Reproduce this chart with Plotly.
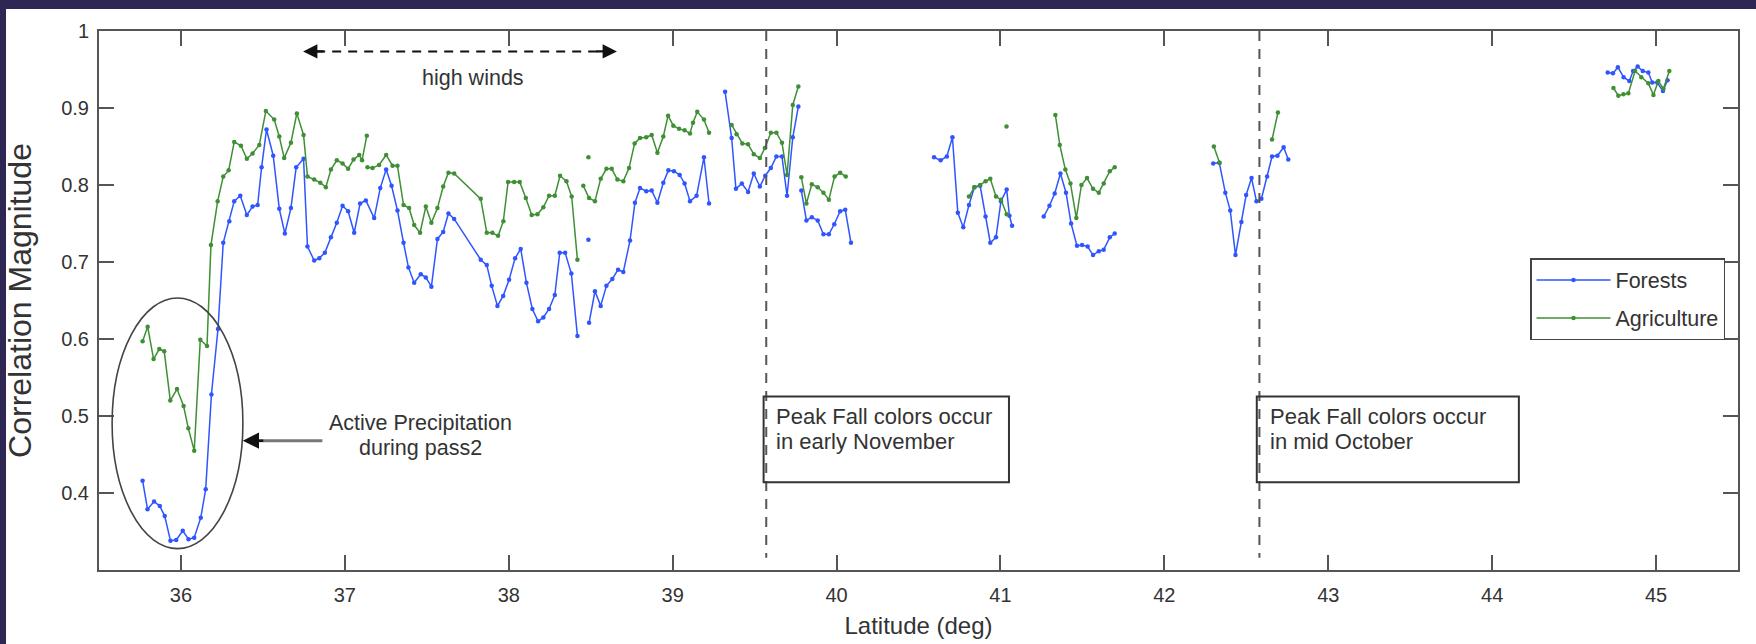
import plotly.graph_objects as go

# ---------------- data ----------------
forest_lat = [
    35.766, 35.796, 35.836, 35.871, 35.901, 35.936, 35.971, 36.011, 36.046, 36.081,
    36.121, 36.151, 36.186, 36.226, 36.258, 36.295, 36.325, 36.362, 36.402, 36.437,
    36.468, 36.492, 36.522, 36.563, 36.600, 36.634, 36.671, 36.703, 36.748, 36.772,
    36.813, 36.844, 36.878, 36.915, 36.951, 36.986, 37.020, 37.057, 37.093, 37.128,
    37.179, 37.216, 37.252, 37.285, 37.321, 37.358, 37.388, 37.423, 37.463, 37.494,
    37.528, 37.565, 37.600, 37.632, 37.667, 37.829, 37.866, 37.896, 37.931, 37.966,
    38.002, 38.039, 38.073, 38.108, 38.144, 38.179, 38.211, 38.246, 38.281, 38.311,
    38.344, 38.382, 38.419, None,
    38.486, None,
    38.490, 38.526, 38.561, 38.596, 38.632, 38.667, 38.699, 38.740, 38.770, 38.801,
    38.839, 38.872, 38.907, 38.943, 38.974, 39.008, 39.043, 39.073, 39.106, 39.146,
    39.191, 39.222, None,
    39.320, 39.360, 39.386, 39.422, 39.460, 39.495, 39.532, 39.565, 39.599, 39.633,
    39.667, 39.698, 39.733, 39.767, None,
    39.785, 39.816, 39.849, 39.885, 39.920, 39.953, 39.986, 40.022, 40.053, 40.088, None,
    40.595, 40.635, 40.673, 40.707, 40.740, 40.773, 40.808, 40.841, 40.876, 40.909,
    40.938, 40.973, 41.003, 41.038, 41.055, 41.071, None,
    41.264, 41.299, 41.331, 41.366, 41.400, 41.431, 41.467, 41.498, 41.532, 41.565,
    41.600, 41.630, 41.667, 41.697, None,
    42.298, 42.335, 42.372, 42.402, 42.434, 42.470, 42.499, 42.532, 42.562, 42.592,
    42.627, 42.657, 42.690, 42.728, 42.756, None,
    44.705, 44.737, 44.767, 44.802, 44.837, 44.860, 44.888, 44.919, 44.953, 44.977,
    45.007, 45.042, 45.070,
]
forest_corr = [
    0.416, 0.379, 0.389, 0.383, 0.370, 0.338, 0.339, 0.351, 0.340, 0.342,
    0.368, 0.405, 0.528, 0.613, 0.725, 0.753, 0.779, 0.786, 0.761, 0.772,
    0.774, 0.823, 0.872, 0.838, 0.769, 0.737, 0.770, 0.823, 0.834, 0.720,
    0.702, 0.705, 0.712, 0.732, 0.751, 0.773, 0.766, 0.738, 0.776, 0.780,
    0.757, 0.796, 0.820, 0.799, 0.767, 0.725, 0.693, 0.673, 0.684, 0.680,
    0.668, 0.730, 0.739, 0.763, 0.756, 0.703, 0.696, 0.669, 0.643, 0.656,
    0.677, 0.705, 0.717, 0.673, 0.639, 0.623, 0.628, 0.639, 0.657, 0.712,
    0.712, 0.685, 0.604, None,
    0.729, None,
    0.621, 0.662, 0.643, 0.669, 0.678, 0.690, 0.687, 0.728, 0.777, 0.796,
    0.792, 0.793, 0.777, 0.803, 0.819, 0.818, 0.813, 0.802, 0.779, 0.786,
    0.836, 0.776, None,
    0.921, 0.861, 0.795, 0.802, 0.791, 0.815, 0.798, 0.812, 0.822, 0.837,
    0.837, 0.786, 0.862, 0.902, None,
    0.793, 0.754, 0.758, 0.754, 0.736, 0.736, 0.749, 0.766, 0.768, 0.725, None,
    0.836, 0.832, 0.837, 0.862, 0.764, 0.745, 0.774, 0.797, 0.799, 0.759,
    0.725, 0.732, 0.779, 0.794, 0.760, 0.747, None,
    0.759, 0.773, 0.789, 0.815, 0.790, 0.750, 0.721, 0.722, 0.720, 0.709,
    0.714, 0.716, 0.732, 0.737, None,
    0.828, 0.829, 0.790, 0.767, 0.709, 0.752, 0.787, 0.809, 0.779, 0.782,
    0.811, 0.837, 0.838, 0.849, 0.833, None,
    0.946, 0.945, 0.953, 0.940, 0.935, 0.948, 0.954, 0.948, 0.946, 0.933,
    0.933, 0.922, 0.936,
]

agri_lat = [
    35.766, 35.797, 35.833, 35.868, 35.898, 35.935, 35.976, 36.016, 36.045, 36.081,
    36.118, 36.159, 36.183, 36.224, 36.258, 36.291, 36.325, 36.366, 36.402, 36.437,
    36.478, 36.518, 36.569, 36.600, 36.630, 36.671, 36.707, 36.748, 36.772, 36.813,
    36.850, 36.884, 36.915, 36.951, 36.986, 37.020, 37.053, 37.088, 37.105, 37.134, None,
    37.138, 37.169, 37.209, 37.252, 37.291, 37.321, 37.358, 37.392, 37.423, 37.459,
    37.494, 37.528, 37.565, 37.600, 37.632, 37.667, 37.829, 37.866, 37.900, 37.935,
    37.967, 37.996, 38.033, 38.067, 38.104, 38.140, 38.175, 38.211, 38.246, 38.281,
    38.313, 38.352, 38.384, 38.419, None,
    38.486, None,
    38.455, 38.490, 38.526, 38.561, 38.596, 38.628, 38.663, 38.699, 38.734, 38.768,
    38.801, 38.839, 38.872, 38.907, 38.943, 38.972, 39.004, 39.039, 39.073, 39.106,
    39.124, 39.150, 39.191, 39.222, None,
    39.360, 39.390, 39.425, 39.460, 39.495, 39.532, 39.563, 39.599, 39.633, 39.667,
    39.698, 39.733, 39.767, None,
    39.785, 39.816, 39.849, 39.885, 39.920, 39.953, 39.988, 40.022, 40.056, None,
    40.808, 40.841, 40.876, 40.909, 40.938, 40.973, 41.003, 41.038, None,
    41.037, None,
    41.335, 41.362, 41.396, 41.427, 41.463, 41.494, 41.528, 41.565, 41.600, 41.630,
    41.667, 41.697, None,
    42.302, 42.337, None,
    42.657, 42.693, None,
    44.740, 44.770, 44.801, 44.831, 44.872, 44.910, 44.953, 44.984, 45.014, 45.045,
    45.081,
]
agri_corr = [
    0.597, 0.616, 0.574, 0.587, 0.584, 0.520, 0.535, 0.513, 0.484, 0.455,
    0.599, 0.591, 0.722, 0.779, 0.811, 0.819, 0.856, 0.851, 0.834, 0.841,
    0.852, 0.896, 0.885, 0.863, 0.835, 0.855, 0.893, 0.865, 0.811, 0.807,
    0.803, 0.797, 0.820, 0.832, 0.828, 0.821, 0.833, 0.839, 0.832, 0.864, None,
    0.823, 0.822, 0.826, 0.839, 0.825, 0.825, 0.774, 0.770, 0.748, 0.738,
    0.772, 0.751, 0.770, 0.798, 0.816, 0.815, 0.782, 0.738, 0.738, 0.734,
    0.753, 0.804, 0.804, 0.804, 0.783, 0.761, 0.762, 0.771, 0.786, 0.786,
    0.812, 0.805, 0.785, 0.703, None,
    0.836, None,
    0.799, 0.783, 0.779, 0.808, 0.821, 0.821, 0.807, 0.805, 0.822, 0.854,
    0.861, 0.862, 0.865, 0.842, 0.863, 0.890, 0.877, 0.873, 0.871, 0.867,
    0.881, 0.895, 0.885, 0.868, None,
    0.878, 0.866, 0.854, 0.853, 0.840, 0.835, 0.848, 0.868, 0.868, 0.855,
    0.813, 0.904, 0.928, None,
    0.810, 0.776, 0.801, 0.797, 0.790, 0.781, 0.811, 0.816, 0.811, None,
    0.785, 0.797, 0.800, 0.805, 0.808, 0.785, 0.781, 0.762, None,
    0.876, None,
    0.891, 0.852, 0.820, 0.802, 0.757, 0.800, 0.809, 0.795, 0.790, 0.802,
    0.818, 0.823, None,
    0.850, 0.829, None,
    0.859, 0.894, None,
    0.926, 0.916, 0.918, 0.919, 0.948, 0.940, 0.932, 0.917, 0.935, 0.925,
    0.948,
]

x_ticks = [36, 37, 38, 39, 40, 41, 42, 43, 44, 45]
y_ticks = [0.4, 0.5, 0.6, 0.7, 0.8, 0.9, 1.0]
y_tick_text = ["0.4", "0.5", "0.6", "0.7", "0.8", "0.9", "1"]

peak_lines = [39.571, 42.58]          # dashed vertical markers
peak_line1 = ["Peak Fall colors occur", "Peak Fall colors occur"]
peak_line2 = ["in early November", "in mid October"]
peak_box_right = [41.052, 44.163]

winds_span = [36.745, 38.66]
winds_level = 0.9735

# ---------------- layout geometry ----------------
W, H = 1756, 644
L, R, T, B = 99, 1738, 31, 570          # plot-area pixel box

def px_x(p):
    return (p - L) / (R - L)

def px_y(p):
    return 1 - (p - T) / (B - T)

FONT = "Liberation Sans, Arial, sans-serif"
TXT = "#333333"
BORDER = "#2e2653"
BLUE = "#2f55ff"
GREEN = "#3f8f35"

fig = go.Figure()

fig.add_trace(go.Scatter(
    x=forest_lat, y=forest_corr, name="Forests", mode="lines+markers",
    legendgroup="f",
    line=dict(color=BLUE, width=1.5), marker=dict(color=BLUE, size=4.5),
    connectgaps=False))
fig.add_trace(go.Scatter(
    x=agri_lat, y=agri_corr, name="Agriculture", mode="lines+markers",
    legendgroup="a",
    line=dict(color=GREEN, width=1.5), marker=dict(color=GREEN, size=4.5),
    connectgaps=False))

shapes = []
annotations = []

# dark frame around the figure (top and left strips)
shapes.append(dict(type="rect", xref="paper", yref="paper",
                   x0=px_x(-5), x1=px_x(W + 5), y0=px_y(-5), y1=px_y(9),
                   fillcolor=BORDER, line=dict(width=0), layer="above"))
shapes.append(dict(type="rect", xref="paper", yref="paper",
                   x0=px_x(-5), x1=px_x(6), y0=px_y(H + 5), y1=px_y(-5),
                   fillcolor=BORDER, line=dict(width=0), layer="above"))

def note(x, y, text, size=21.5, xanchor="left"):
    annotations.append(dict(x=x, y=y, xref="x", yref="y", text=text,
                            showarrow=False, xanchor=xanchor, yanchor="middle",
                            font=dict(family=FONT, size=size, color=TXT)))

# dashed vertical lines + text boxes
for xv, t1, t2, xr in zip(peak_lines, peak_line1, peak_line2, peak_box_right):
    shapes.append(dict(type="line", xref="x", yref="y", x0=xv, x1=xv, y0=1.0, y1=0.316,
                       line=dict(color="#555555", width=2, dash="10px,8px")))
    shapes.append(dict(type="rect", xref="x", yref="y", x0=xv - 0.016, x1=xr,
                       y0=0.4138, y1=0.5254,
                       line=dict(color="#333333", width=2), fillcolor="rgba(0,0,0,0)"))
    note(xv + 0.05, 0.4991, t1, size=22)
    note(xv + 0.05, 0.4666, t2, size=22)

# ellipse around precipitation region
shapes.append(dict(type="circle", xref="x", yref="y", x0=35.58, x1=36.378,
                   y0=0.3277, y1=0.6533, line=dict(color="#444444", width=1.6)))

# precipitation arrow (gray shaft, black head)
shapes.append(dict(type="line", xref="x", yref="y", x0=36.42, x1=36.863, y0=0.468, y1=0.468,
                   line=dict(color="#777777", width=3)))
annotations.append(dict(x=36.377, y=0.468, xref="x", yref="y", ax=22, ay=0,
                        text="", showarrow=True, arrowhead=2, arrowsize=1.3,
                        arrowwidth=2.5, arrowcolor="#111111"))
note(37.46, 0.4905, "Active Precipitation", xanchor="center")
note(37.46, 0.4580, "during pass2", xanchor="center")

# high winds double arrow
shapes.append(dict(type="line", xref="x", yref="y", x0=winds_span[0] + 0.08,
                   x1=winds_span[1] - 0.08, y0=winds_level, y1=winds_level,
                   line=dict(color="#111111", width=2, dash="9px,7px")))
annotations.append(dict(x=winds_span[0], y=winds_level, xref="x", yref="y", ax=22, ay=0,
                        text="", showarrow=True, arrowhead=2, arrowsize=1.3,
                        arrowwidth=2.2, arrowcolor="#111111"))
annotations.append(dict(x=winds_span[1], y=winds_level, xref="x", yref="y", ax=-22, ay=0,
                        text="", showarrow=True, arrowhead=2, arrowsize=1.3,
                        arrowwidth=2.2, arrowcolor="#111111"))
note(37.78, 0.939, "high winds", xanchor="center")

axis_common = dict(
    showline=True, linecolor="#555555", linewidth=2, mirror="ticks",
    ticks="inside", ticklen=15, tickwidth=2, tickcolor="#555555",
    showgrid=False, zeroline=False,
    tickfont=dict(family=FONT, size=20, color=TXT),
)

fig.update_layout(
    width=W, height=H,
    margin=dict(l=L, r=W - R, t=T, b=H - B, autoexpand=False),
    paper_bgcolor="white", plot_bgcolor="white",
    font=dict(family=FONT, color=TXT),
    xaxis=dict(range=[35.5, 45.5], tickvals=x_ticks, ticklabelstandoff=6,
               title=dict(text="Latitude (deg)", standoff=12,
                          font=dict(family=FONT, size=24, color=TXT)),
               **axis_common),
    yaxis=dict(range=[0.3, 1.0], tickvals=y_ticks, ticktext=y_tick_text,
               ticklabelstandoff=4,
               title=dict(text="Correlation Magnitude", standoff=20,
                          font=dict(family=FONT, size=32, color=TXT)),
               **axis_common),
    legend=dict(x=px_x(1725), y=px_y(258), xanchor="right", yanchor="top",
                bordercolor="#444444", borderwidth=1.5, bgcolor="white",
                itemwidth=74, tracegroupgap=7,
                font=dict(family=FONT, size=21.5, color=TXT)),
    shapes=shapes, annotations=annotations, showlegend=True,
)

fig.write_html("out.html")
